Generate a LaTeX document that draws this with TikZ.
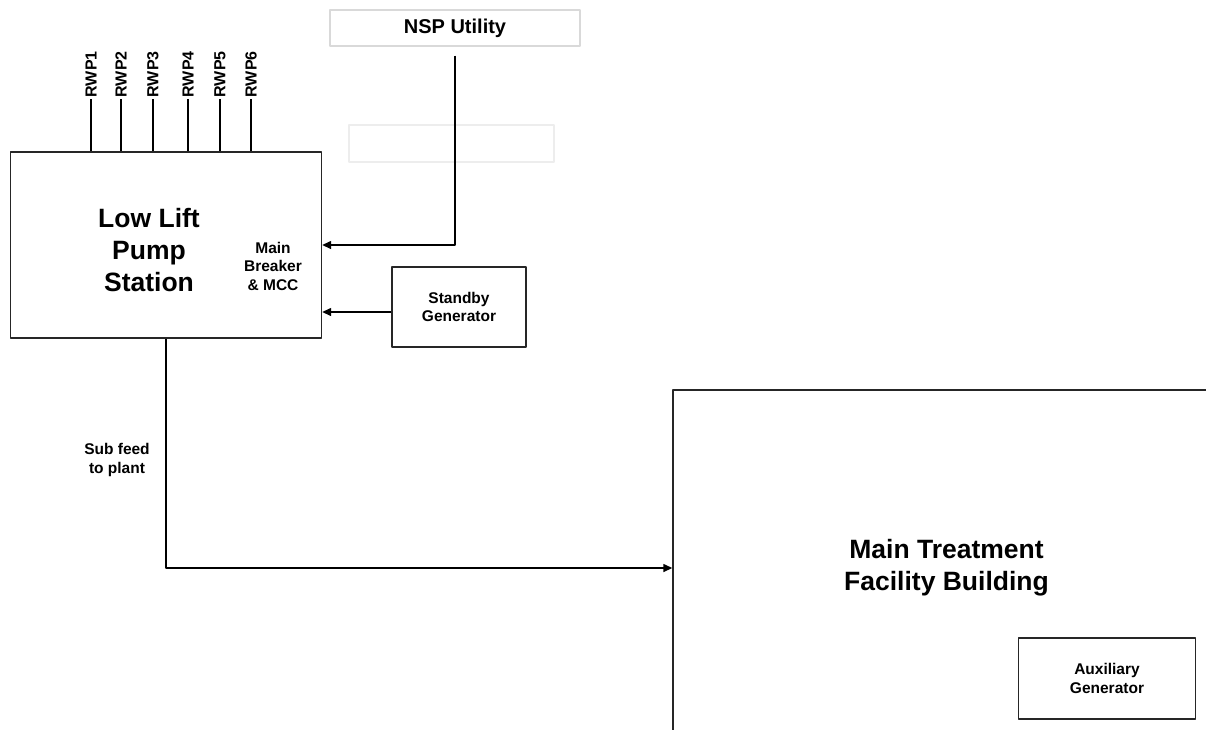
\documentclass[tikz,border=0pt]{standalone}
\usepackage{fontspec}
\setmainfont{Liberation Sans}
\usetikzlibrary{arrows.meta}
\begin{document}
\begin{tikzpicture}[x=1pt, y=-1pt, line width=1.4pt, line join=round, >={Triangle[length=9pt,width=8pt]}]
	\tikzset{box/.style={draw=black!85, inner sep=0pt},
		bigtxt/.style={font=\fontsize{26.5}{32}\selectfont\bfseries, align=center},
		midtxt/.style={font=\fontsize{20}{24}\selectfont\bfseries, align=center},
		smalltxt/.style={font=\fontsize{15.5}{18.5}\selectfont\bfseries, align=center},
		rwptxt/.style={font=\fontsize{16}{18}\selectfont\bfseries, inner sep=1pt}}
	\useasboundingbox (0,0) rectangle (1206,729);
	\clip (0,0) rectangle (1206,729);
	% Pump station and its feeds
	\node[box, minimum width=311pt, minimum height=186pt] (llps) at (166,245) {};
	\node[bigtxt] (llpstxt) at (149,250) {Low Lift\\Pump\\Station};
	\node[smalltxt] (mcc) at (273,266) {Main\\Breaker\\\& MCC};
	\node[box, draw=black!15, minimum width=250pt, minimum height=36pt, midtxt] (nsp) at (455,28) {NSP Utility};
	\node[box, draw=black!7, minimum width=205pt, minimum height=37pt] (blank) at (451.5,143.5) {};
	\node[box, minimum width=134pt, minimum height=80pt, smalltxt] (sgen) at (459,307) {Standby\\Generator};
	\foreach \i/\x in {1/91,2/121,3/153,4/188,5/220,6/251}{
		\node[rwptxt, rotate=90, anchor=west] (rwp\i) at (\x,99) {RWP\i};
		\draw (rwp\i.west) -- (rwp\i.west |- llps.north);
	}
	% Plant
	\node[box, minimum width=547pt, minimum height=356pt, bigtxt] (mtf) at (946.5,568) {Main Treatment\\Facility Building};
	\node[box, minimum width=177pt, minimum height=81pt, smalltxt] (agen) at (1107,678.5) {Auxiliary\\Generator};
	\node[smalltxt] (sub) at (117,460) {Sub feed\\to plant};
	% Connections
	\coordinate (tap) at (455,245);
	\draw[->] ([yshift=-9pt]nsp.south) -- (tap) -- (llps.east |- tap);
	\draw[->] ([yshift=-5pt]sgen.west) -- ([yshift=-5pt]llps.east |- sgen.west);
	\draw[->] (llps.south) |- (mtf.west);
\end{tikzpicture}
\end{document}
